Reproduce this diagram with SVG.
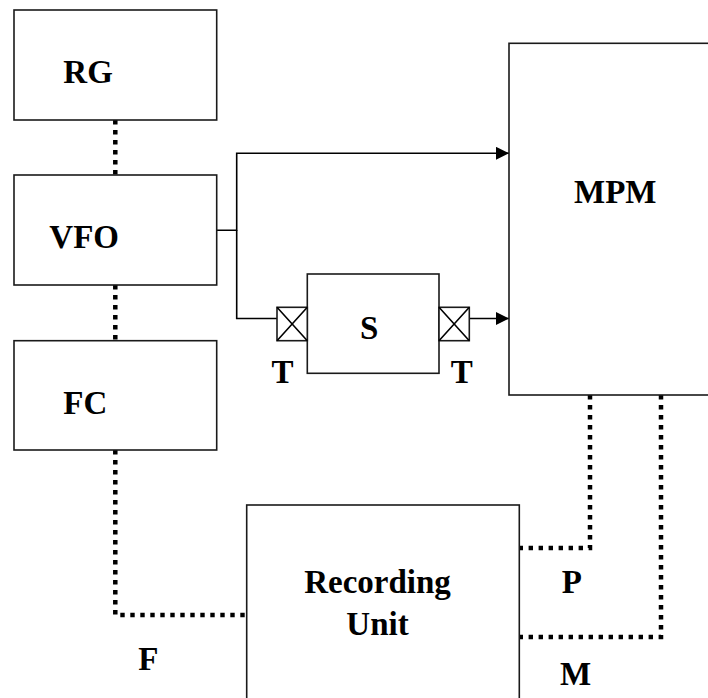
<svg xmlns="http://www.w3.org/2000/svg" width="708" height="698" viewBox="0 0 708 698">
<style>
.box{fill:#fff;stroke:#1a1a1a;stroke-width:1.6}
.wire{fill:none;stroke:#000;stroke-width:1.6}
.dot{fill:none;stroke:#000;stroke-width:4.5;stroke-dasharray:4.4 5.6}
.lbl{font-family:'Liberation Serif','DejaVu Serif',serif;font-weight:700;font-size:33px;fill:#000}
</style>
<defs>
<marker id="ah" viewBox="0 0 13 13" refX="13" refY="6.5" markerWidth="13" markerHeight="13" markerUnits="userSpaceOnUse" orient="auto">
<path d="M0,0 L13,6.5 L0,13 Z" fill="#000"/>
</marker>
</defs>
<rect width="708" height="698" fill="#fff"/>
<g id="connectors">
<path class="wire" d="M216.7,230.3 H236.7 V153.3 H509" marker-end="url(#ah)"/>
<path class="wire" d="M236.7,230.3 V318.5 H277"/>
<path class="wire" d="M469.3,318.5 H509" marker-end="url(#ah)"/>
<path class="dot" d="M115.3,120 V175"/>
<path class="dot" d="M115.3,285 V340.7"/>
<path class="dot" d="M115.3,450 V615 H246.7"/>
<path class="dot" d="M590,395 V548 H519.3"/>
<path class="dot" d="M661,395 V637 H519.3"/>
</g>
<g id="RG">
<rect class="box" x="14" y="10" width="202.7" height="110"/>
<text class="lbl" x="63.3" y="82.7">RG</text>
</g>
<g id="VFO">
<rect class="box" x="14" y="175" width="202.7" height="110"/>
<text class="lbl" x="49.3" y="248.3">VFO</text>
</g>
<g id="FC">
<rect class="box" x="14" y="340.7" width="202.7" height="109.3"/>
<text class="lbl" x="63.3" y="414.3">FC</text>
</g>
<g id="MPM">
<rect class="box" x="509" y="43.3" width="210" height="351.7"/>
<text class="lbl" x="574" y="202.7">MPM</text>
</g>
<g id="S">
<rect class="box" x="307.3" y="274" width="131.7" height="99.3"/>
<text class="lbl" x="360" y="339">S</text>
</g>
<g id="T1">
<rect class="box" x="277" y="307.3" width="30.3" height="33.4"/>
<path class="wire" d="M277,307.3 L307.3,340.7 M307.3,307.3 L277,340.7"/>
<text class="lbl" x="271.5" y="383.3">T</text>
</g>
<g id="T2">
<rect class="box" x="439" y="307.3" width="30.3" height="33.4"/>
<path class="wire" d="M439,307.3 L469.3,340.7 M469.3,307.3 L439,340.7"/>
<text class="lbl" x="450.7" y="383.3">T</text>
</g>
<g id="RecordingUnit">
<rect class="box" x="246.7" y="505" width="272.6" height="210"/>
<text class="lbl" x="377.5" y="592.7" text-anchor="middle">Recording</text>
<text class="lbl" x="377.5" y="635" text-anchor="middle">Unit</text>
</g>
<g id="labels">
<text class="lbl" x="138.3" y="670">F</text>
<text class="lbl" x="561.7" y="593">P</text>
<text class="lbl" x="560" y="685">M</text>
</g>
</svg>
